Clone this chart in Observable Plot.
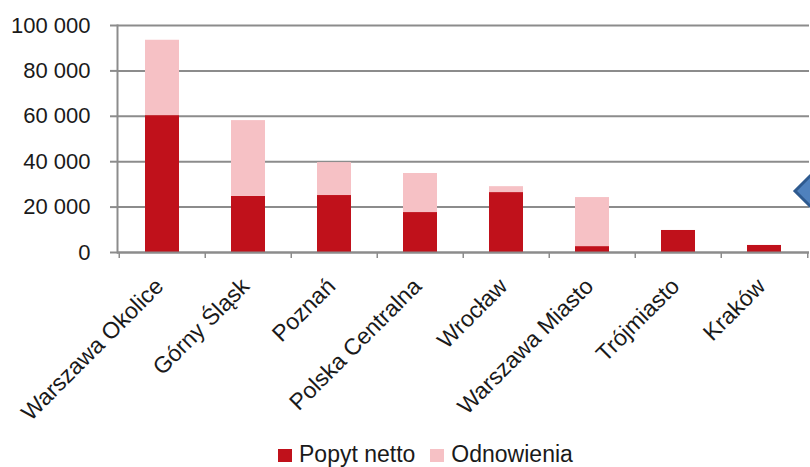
<!DOCTYPE html>
<html>
<head>
<meta charset="utf-8">
<script src="https://cdn.jsdelivr.net/npm/d3@7"></script>
<script src="https://cdn.jsdelivr.net/npm/@observablehq/plot@0.6"></script>
<style>
  html, body { margin: 0; padding: 0; background: #fff; }
  body { width: 810px; height: 467px; overflow: hidden; position: relative; font-family: "Liberation Sans", Arial, sans-serif; }
  #legend { position: absolute; left: 278px; top: 442px; display: flex; gap: 15px; font-size: 23px; line-height: 24px; color: #1a1a1a; }
  #legend span.item { display: inline-flex; align-items: center; }
  #legend span.sw { display: inline-block; width: 14px; height: 13px; margin-right: 7px; margin-top: 2px; }
  #deco { position: absolute; left: 790px; top: 170px; }
</style>
</head>
<body>
<div id="chart"></div>
<div id="legend"></div>
<svg id="deco" width="20" height="42"><polygon points="5,21 26,0 26,42" fill="#4f81bd" stroke="#2e5a8f" stroke-width="3"/></svg>
<script>
const regions = ["Warszawa Okolice", "Górny Śląsk", "Poznań", "Polska Centralna", "Wrocław", "Warszawa Miasto", "Trójmiasto", "Kraków"];
const popytNetto = [60300, 24700, 25100, 17600, 26400, 2600, 9700, 3100];
const odnowienia = [33200, 33400, 14500, 17200, 2600, 21600, 0, 0];
const seriesNames = ["Popyt netto", "Odnowienia"];
const seriesColors = ["#c0111b", "#f6c1c5"];
const yTicks = [0, 20000, 40000, 60000, 80000, 100000];

const data = [];
regions.forEach((r, i) => {
  data.push({region: r, series: seriesNames[0], value: popytNetto[i]});
  data.push({region: r, series: seriesNames[1], value: odnowienia[i]});
});

const W = 810, H = 425, mL = 117, mR = 1, mT = 25, mB = 173;
const bw = (W - mL - mR) / regions.length;
const fmt = d => d3.format(",")(d).replace(/,/g, " ");

const chart = Plot.plot({
  width: W, height: H,
  marginLeft: mL, marginRight: mR, marginTop: mT, marginBottom: mB,
  style: {fontFamily: "Liberation Sans, Arial, sans-serif", color: "#1a1a1a", background: "#fff"},
  x: {domain: regions, paddingInner: 0.6, paddingOuter: 0.3, label: null},
  y: {domain: [0, 100000], label: null},
  color: {domain: seriesNames, range: seriesColors},
  marks: [
    Plot.gridY(yTicks, {stroke: "#8c8c8c", strokeOpacity: 1, strokeWidth: 2}),
    Plot.barY(data, {x: "region", y: "value", fill: "series", order: seriesNames}),
    Plot.ruleY([0], {stroke: "#8c8c8c", strokeWidth: 2}),
    Plot.frame({anchor: "left", stroke: "#8c8c8c", strokeWidth: 2}),
    Plot.ruleX(regions, {x: d => d, y1: 0, y2: 0, insetBottom: -6, dx: -bw / 2, stroke: "#8c8c8c", strokeWidth: 1.5}),
    Plot.ruleX(regions.slice(-1), {x: d => d, y1: 0, y2: 0, insetBottom: -6, dx: bw / 2, stroke: "#8c8c8c", strokeWidth: 1.5}),
    Plot.axisY(yTicks, {tickSize: 7, tickPadding: 20, tickFormat: fmt, fontSize: 22, stroke: "#8c8c8c", strokeWidth: 2, label: null}),
    Plot.axisX({tickSize: 0, tickRotate: -45, fontSize: 23, tickPadding: 30, dx: -3, label: null})
  ]
});
document.getElementById("chart").appendChild(chart);

const legend = document.getElementById("legend");
seriesNames.forEach((s, i) => {
  const item = document.createElement("span");
  item.className = "item";
  const sw = document.createElement("span");
  sw.className = "sw";
  sw.style.background = seriesColors[i];
  item.appendChild(sw);
  item.appendChild(document.createTextNode(s));
  legend.appendChild(item);
});
</script>
</body>
</html>
